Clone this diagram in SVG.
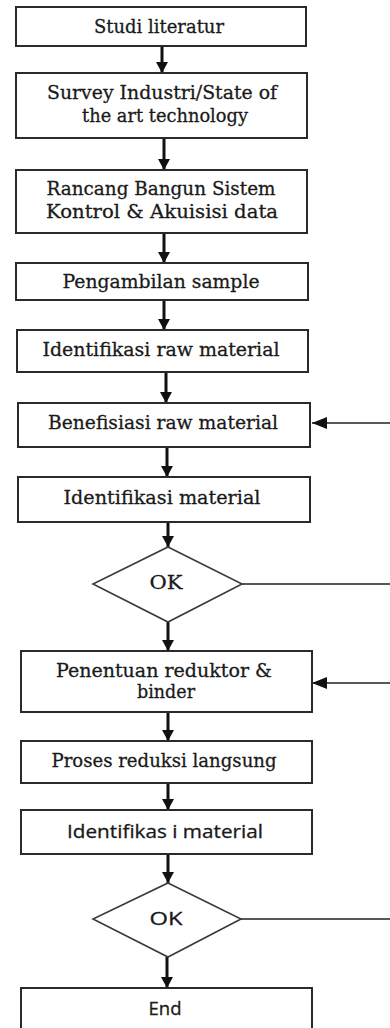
<svg xmlns="http://www.w3.org/2000/svg" width="390" height="1028" viewBox="0 0 390 1028">
<style>
.box{fill:#fff;stroke:#2a2a2a;stroke-width:2}
.dia{fill:#fff;stroke:#3a3a3a;stroke-width:1.6}
.t{font-family:"DejaVu Serif","Liberation Serif",serif;font-size:19px;fill:#1a1a1a;stroke:#1a1a1a;stroke-width:0.3;text-anchor:middle}
.s{font-family:"Open Sans","DejaVu Sans",sans-serif;font-size:18px;fill:#1a1a1a;stroke:#1a1a1a;stroke-width:0.3;text-anchor:middle}
.down{stroke:#111;stroke-width:3;fill:none;marker-end:url(#ah)}
.side{stroke:#222;stroke-width:1.6;fill:none}
.sidea{stroke:#222;stroke-width:1.6;fill:none;marker-end:url(#ahs)}
</style>
<defs>
<marker id="ah" markerUnits="userSpaceOnUse" markerWidth="14" markerHeight="12" refX="11" refY="6" orient="auto">
<path d="M0,0 L11,6 L0,12 Z" fill="#111"/>
</marker>
<marker id="ahs" markerUnits="userSpaceOnUse" markerWidth="16" markerHeight="12" refX="15" refY="6" orient="auto">
<path d="M0,0 L15,6 L0,12 Z" fill="#111"/>
</marker>
</defs>
<rect width="390" height="1028" fill="#fff"/>
<g id="connectors">
<line class="down" x1="162" y1="46" x2="162" y2="73"/>
<line class="down" x1="164" y1="138" x2="164" y2="170"/>
<line class="down" x1="164" y1="233" x2="164" y2="263"/>
<line class="down" x1="164" y1="300" x2="164" y2="330"/>
<line class="down" x1="166" y1="372" x2="166" y2="403"/>
<line class="down" x1="167" y1="447" x2="167" y2="477"/>
<line class="down" x1="168" y1="522" x2="168" y2="547"/>
<line class="down" x1="168" y1="622" x2="168" y2="651"/>
<line class="down" x1="168" y1="712" x2="168" y2="741"/>
<line class="down" x1="168" y1="783" x2="168" y2="810"/>
<line class="down" x1="168" y1="854" x2="168" y2="883"/>
<line class="down" x1="167" y1="957" x2="167" y2="988"/>
<path class="side" d="M242,584 H400 V423"/>
<line class="sidea" x1="400" y1="423" x2="312" y2="423"/>
<path class="side" d="M241,919 H400 V683"/>
<line class="sidea" x1="400" y1="683" x2="312" y2="683"/>
</g>
<g id="n1"><rect class="box" x="16" y="7" width="290" height="39"/><text class="t" x="159" y="33" textLength="130" lengthAdjust="spacingAndGlyphs">Studi literatur</text></g>
<g id="n2"><rect class="box" x="16" y="73" width="291" height="65"/><text class="t" x="162" y="99" textLength="230" lengthAdjust="spacingAndGlyphs">Survey Industri/State of</text><text class="t" x="165" y="122" textLength="166" lengthAdjust="spacingAndGlyphs">the art technology</text></g>
<g id="n3"><rect class="box" x="16" y="170" width="291" height="63"/><text class="t" x="161" y="195" textLength="229" lengthAdjust="spacingAndGlyphs">Rancang Bangun Sistem</text><text class="t" x="162" y="218" textLength="232" lengthAdjust="spacingAndGlyphs">Kontrol &amp; Akuisisi data</text></g>
<g id="n4"><rect class="box" x="16" y="263" width="292" height="37"/><text class="t" x="161" y="288" textLength="197" lengthAdjust="spacingAndGlyphs">Pengambilan sample</text></g>
<g id="n5"><rect class="box" x="17" y="330" width="291" height="42"/><text class="t" x="161" y="356" textLength="237" lengthAdjust="spacingAndGlyphs">Identifikasi raw material</text></g>
<g id="n6"><rect class="box" x="18" y="403" width="292" height="44"/><text class="t" x="163" y="429" textLength="230" lengthAdjust="spacingAndGlyphs">Benefisiasi raw material</text></g>
<g id="n7"><rect class="box" x="18" y="477" width="292" height="45"/><text class="t" x="162" y="504" textLength="197" lengthAdjust="spacingAndGlyphs">Identifikasi material</text></g>
<g id="d1"><polygon class="dia" points="168,547 242,584 168,622 93,584"/><text class="t" x="166" y="589" textLength="33" lengthAdjust="spacingAndGlyphs">OK</text></g>
<g id="n8"><rect class="box" x="21" y="651" width="291" height="61"/><text class="t" x="164" y="677" textLength="216" lengthAdjust="spacingAndGlyphs">Penentuan reduktor &amp;</text><text class="t" x="166" y="698" textLength="58" lengthAdjust="spacingAndGlyphs">binder</text></g>
<g id="n9"><rect class="box" x="21" y="741" width="291" height="42"/><text class="t" x="164" y="767" textLength="225" lengthAdjust="spacingAndGlyphs">Proses reduksi langsung</text></g>
<g id="n10"><rect class="box" x="21" y="810" width="291" height="44"/><text class="s" x="165" y="838" textLength="196" lengthAdjust="spacingAndGlyphs">Identifikas i material</text></g>
<g id="d2"><polygon class="dia" points="168,883 241,919 168,957 93,919"/><text class="s" x="166" y="925" textLength="33" lengthAdjust="spacingAndGlyphs">OK</text></g>
<g id="end"><rect class="box" x="21" y="988" width="291" height="52"/><text class="s" x="165" y="1015" textLength="33" lengthAdjust="spacingAndGlyphs">End</text></g>
</svg>
